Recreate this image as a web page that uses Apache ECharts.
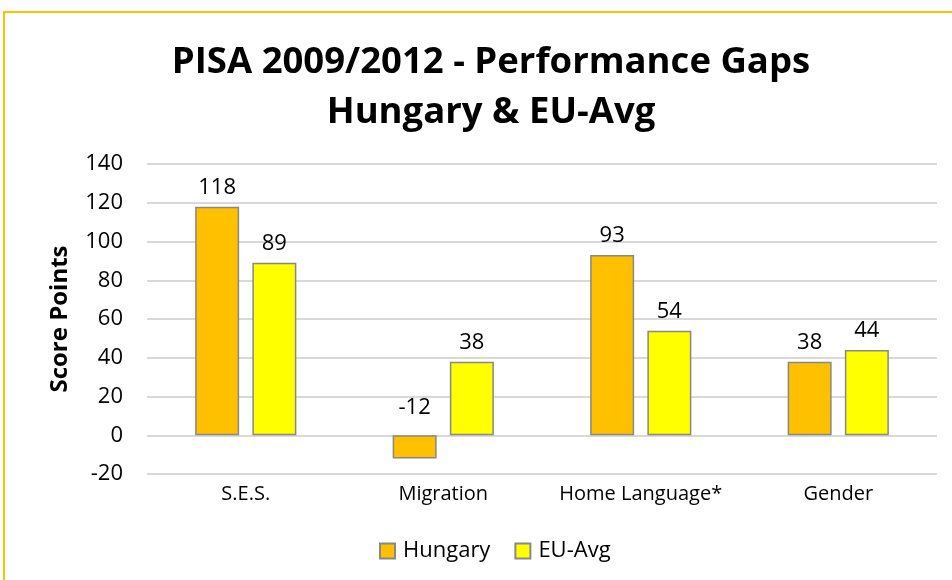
<!DOCTYPE html>
<html>
<head>
<meta charset="utf-8">
<script src="https://cdn.jsdelivr.net/npm/echarts@6/dist/echarts.min.js"></script>
<style>
  html, body { margin: 0; padding: 0; background: #fff; }
  #main { width: 952px; height: 580px; }
</style>
</head>
<body>
<div id="main"></div>
<script>
// 数据
const categories = ['S.E.S.', 'Migration', 'Home Language*', 'Gender'];
const hungary = [118, -12, 93, 38];
const euAvg = [89, 38, 54, 44];
const yTicks = [-20, 0, 20, 40, 60, 80, 100, 120, 140];

const font = '"Open Sans", "Noto Sans", sans-serif';

const chart = echarts.init(document.getElementById('main'));

// 负值标签放在零线上方
const hungaryData = hungary.map(v => v < 0
  ? { value: v, label: { position: 'insideBottom', offset: [0, -32] } }
  : v);

const option = {
  backgroundColor: '#fff',
  animation: false,
  title: {
    text: 'PISA 2009/2012 - Performance Gaps\nHungary & EU-Avg',
    left: 486,
    top: 33,
    textAlign: 'center',
    textStyle: { fontFamily: font, fontSize: 36.5, fontWeight: 'bold', color: '#000', lineHeight: 50 }
  },
  graphic: [{
    type: 'rect',
    shape: { x: 4, y: 12, width: 970, height: 600 },
    style: { fill: 'none', stroke: '#FFC000', lineWidth: 2 },
    silent: true
  }],
  legend: {
    top: 535,
    left: 374,
    itemWidth: 15,
    itemHeight: 15,
    itemGap: 24,
    icon: 'rect',
    textStyle: { fontFamily: font, fontSize: 22, color: '#000', padding: [0, 0, 0, 3] },
    data: ['Hungary', 'EU-Avg']
  },
  grid: { left: 147, right: 15, top: 164, bottom: 106, containLabel: false },
  xAxis: {
    type: 'category',
    data: categories,
    axisLine: { show: false, onZero: false },
    axisTick: { show: false },
    axisLabel: { interval: 0, fontFamily: font, fontSize: 20, color: '#000', margin: 10 }
  },
  yAxis: {
    type: 'value',
    min: yTicks[0],
    max: yTicks[yTicks.length - 1],
    interval: 20,
    name: 'Score Points',
    nameLocation: 'middle',
    nameGap: 75,
    nameTextStyle: { fontFamily: font, fontSize: 24, fontWeight: 'bold', color: '#000' },
    axisLine: { show: false },
    axisTick: { show: false },
    axisLabel: { fontFamily: font, fontSize: 22, color: '#000', margin: 24 },
    splitLine: { lineStyle: { color: '#D9D9D9', width: 2 } }
  },
  series: [
    {
      name: 'Hungary',
      type: 'bar',
      data: hungaryData,
      barWidth: 44,
      barGap: '30%',
      itemStyle: { color: '#FFC000', borderColor: '#888888', borderWidth: 1.5 },
      label: { show: true, position: 'top', distance: 8, fontFamily: font, fontSize: 22, color: '#000' }
    },
    {
      name: 'EU-Avg',
      type: 'bar',
      data: euAvg,
      barWidth: 44,
      itemStyle: { color: '#FFFF00', borderColor: '#888888', borderWidth: 1.5 },
      label: { show: true, position: 'top', distance: 8, fontFamily: font, fontSize: 22, color: '#000' }
    }
  ]
};

chart.setOption(option);
</script>
</body>
</html>
